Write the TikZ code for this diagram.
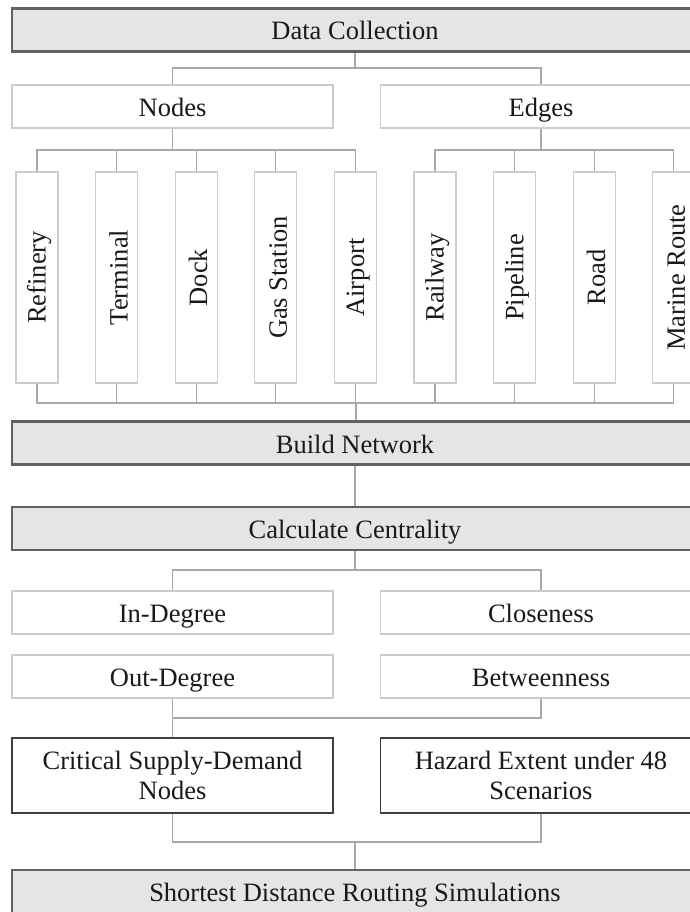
\documentclass[tikz,border=0pt]{standalone}
\usepackage{fontspec}
\setmainfont{Liberation Serif}
\usetikzlibrary{positioning}
\definecolor{stagefill}{gray}{0.9}
\definecolor{linkgray}{gray}{0.66}
\definecolor{itemline}{gray}{0.8}

\begin{document}
\begin{tikzpicture}[x=1pt, y=-1pt,
    every node/.style={font=\fontsize{26.5}{30}\selectfont, text=black!90, inner sep=0pt},
    stage/.style={draw=black!62, line width=2.4pt, fill=stagefill, minimum width=686pt, minimum height=43pt, text height=21pt, text depth=1pt},
    item/.style={draw=itemline, line width=1.2pt, fill=white, minimum width=321pt, minimum height=43pt, text height=21pt, text depth=1pt},
    tallbox/.style={draw=itemline, line width=1.2pt, fill=white, minimum width=42pt, minimum height=211pt},
    result/.style={draw=black!75, line width=1.8pt, fill=white, minimum width=321pt, minimum height=75pt, align=center},
    link/.style={draw=linkgray, line width=1.2pt}]
                \useasboundingbox (0,0) rectangle (690,912);
                \clip (0,0) rectangle (690,912);
                % top level
                \node [stage] (collect) at (355,30) {Data Collection};
                \node [item] (nodes) at (172.5,106.5) {Nodes};
                \node [item] (edges) at (541,106.5) {Edges};
                % the nine element types
                \foreach \name [count=\i] in {Refinery,Terminal,Dock,Gas Station,Airport,Railway,Pipeline,Road,Marine Route}{
                  \node [tallbox] (t\i) at ({37+79.6*(\i-1)},277.5) {\rotatebox{90}{\rule[-1pt]{0pt}{24pt}\name}};
                }
                \node [stage] (build) at (355,443) {Build Network};
                \node [stage] (calc) at (355,528.5) {Calculate Centrality};
                \node [item] (indeg) at (172.5,612.5) {In-Degree};
                \node [item] (close) at (541,612.5) {Closeness};
                \node [item] (outdeg) at (172.5,676.5) {Out-Degree};
                \node [item] (betw) at (541,676.5) {Betweenness};
                \node [result] (crit) at (172.5,775.5) {Critical Supply-Demand\\Nodes};
                \node [result] (hazard) at (541,775.5) {Hazard Extent under 48\\Scenarios};
                \node [stage] (route) at (355,891.5) {Shortest Distance Routing Simulations};
                % bus points
                \coordinate (b1) at (355,68);
                \coordinate (b2) at (172.5,150);
                \coordinate (b3) at (541,150);
                \coordinate (b4) at (356,403);
                \coordinate (b5) at (355,570);
                \coordinate (b6) at (172.5,718);
                \coordinate (b7) at (355,842);
                % connectors
                \draw [link] (collect) -- (b1);
                \draw [link] (nodes.north) |- (b1) -| (edges.north);
                \draw [link] (nodes) -- (b2);
                \draw [link] (edges) -- (b3);
                \foreach \i in {1,...,5}{
                  \draw [link] (t\i.north) |- (b2);
                }
                \foreach \i in {6,...,9}{
                  \draw [link] (t\i.north) |- (b3);
                }
                \foreach \i in {1,...,9}{
                  \draw [link] (t\i.south) |- (b4);
                }
                \draw [link] (b4) -- (build.north -| b4);
                \draw [link] (build) -- (calc);
                \draw [link] (calc) -- (b5);
                \draw [link] (indeg.north) |- (b5) -| (close.north);
                \draw [link] (outdeg) -- (crit);
                \draw [link] (betw.south) |- (b6);
                \draw [link] (crit.south) |- (b7) -| (hazard.south);
                \draw [link] (b7) -- (route);
            \end{tikzpicture}
\end{document}
